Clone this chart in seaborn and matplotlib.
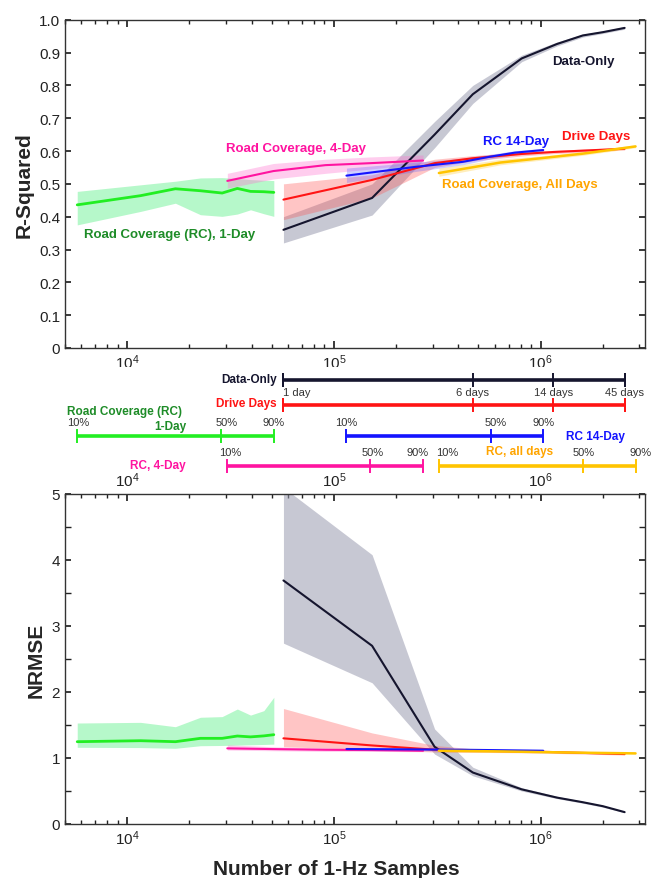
import numpy as np
import matplotlib
matplotlib.use("Agg")
import matplotlib.pyplot as plt
import matplotlib.ticker as mticker
import seaborn as sns

# ---- values ----
# Data-Only (1 day ... 45 days of driving)
do_x = [57000, 153000, 307000, 470000, 810000, 1200000, 1600000, 2000000, 2550000]
do_r2 = [0.36, 0.457, 0.65, 0.773, 0.882, 0.926, 0.952, 0.962, 0.975]
do_r2_lo = [0.32, 0.405, 0.61, 0.745, 0.872, 0.92, 0.947, 0.958, 0.971]
do_r2_hi = [0.40, 0.50, 0.69, 0.80, 0.892, 0.932, 0.956, 0.966, 0.979]
do_nrmse = [3.69, 2.70, 1.17, 0.78, 0.525, 0.40, 0.33, 0.27, 0.18]
do_nrmse_lo = [2.74, 2.14, 1.06, 0.73, 0.50, 0.385, 0.315, 0.255, 0.17]
do_nrmse_hi = [5.1, 4.08, 1.44, 0.86, 0.55, 0.42, 0.345, 0.285, 0.19]

# Drive Days
drive_x = [57000, 153000, 307000, 470000, 810000, 1150000, 2550000]
drive_r2 = [0.452, 0.512, 0.563, 0.578, 0.591, 0.597, 0.607]
drive_r2_lo = [0.391, 0.457, 0.550, 0.570, 0.585, 0.592, 0.603]
drive_r2_hi = [0.500, 0.528, 0.575, 0.586, 0.597, 0.602, 0.611]
drive_nrmse = [1.298, 1.19, 1.126, 1.11, 1.10, 1.09, 1.06]
drive_nrmse_lo = [1.17, 1.13, 1.09, 1.085, 1.08, 1.07, 1.045]
drive_nrmse_hi = [1.75, 1.38, 1.19, 1.14, 1.12, 1.105, 1.075]

# Road Coverage (RC), 1-Day
rc1_x = [5730, 11600, 17100, 22600, 28800, 34100, 39500, 45800, 51200]
rc1_r2 = [0.436, 0.464, 0.485, 0.479, 0.472, 0.486, 0.477, 0.476, 0.474]
rc1_r2_lo = [0.375, 0.416, 0.441, 0.406, 0.401, 0.408, 0.421, 0.409, 0.401]
rc1_r2_hi = [0.477, 0.497, 0.508, 0.518, 0.519, 0.516, 0.513, 0.511, 0.51]
rc1_nrmse = [1.247, 1.262, 1.247, 1.298, 1.298, 1.333, 1.32, 1.335, 1.353]
rc1_nrmse_lo = [1.162, 1.158, 1.147, 1.186, 1.19, 1.195, 1.2, 1.205, 1.21]
rc1_nrmse_hi = [1.53, 1.54, 1.474, 1.617, 1.627, 1.742, 1.65, 1.717, 1.92]

# RC, 4-Day
rc4_x = [30500, 51000, 91000, 150000, 270000]
rc4_r2 = [0.509, 0.539, 0.557, 0.563, 0.571]
rc4_r2_lo = [0.487, 0.515, 0.532, 0.545, 0.563]
rc4_r2_hi = [0.532, 0.562, 0.575, 0.582, 0.588]
rc4_nrmse = [1.146, 1.135, 1.125, 1.12, 1.11]
rc4_nrmse_lo = [1.12, 1.11, 1.10, 1.10, 1.095]
rc4_nrmse_hi = [1.20, 1.17, 1.15, 1.14, 1.13]

# RC 14-Day
rc14_x = [115000, 250000, 420000, 573000, 750000, 1030000]
rc14_r2 = [0.525, 0.552, 0.567, 0.583, 0.595, 0.603]
rc14_r2_lo = [0.504, 0.538, 0.558, 0.576, 0.589, 0.598]
rc14_r2_hi = [0.548, 0.566, 0.578, 0.59, 0.601, 0.608]
rc14_nrmse = [1.136, 1.13, 1.125, 1.12, 1.115, 1.11]
rc14_nrmse_lo = [1.115, 1.11, 1.105, 1.10, 1.10, 1.095]
rc14_nrmse_hi = [1.16, 1.15, 1.145, 1.14, 1.135, 1.13]

# RC, all days
rcall_x = [322000, 640000, 1000000, 1600000, 2880000]
rcall_r2 = [0.533, 0.565, 0.578, 0.592, 0.614]
rcall_r2_lo = [0.523, 0.558, 0.572, 0.587, 0.61]
rcall_r2_hi = [0.548, 0.575, 0.585, 0.598, 0.619]
rcall_nrmse = [1.11, 1.10, 1.09, 1.08, 1.07]
rcall_nrmse_lo = [1.095, 1.085, 1.078, 1.068, 1.06]
rcall_nrmse_hi = [1.125, 1.115, 1.105, 1.095, 1.08]

# sample-count scale in the middle strip
days_x = [57000, 470000, 1150000, 2550000]
days_lbl = ["1 day", "6 days", "14 days", "45 days"]
pct_lbl = ["10%", "50%", "90%"]
rc1_pct = [5730, 28500, 51200]
rc14_pct = [115000, 573000, 1030000]
rc4_pct = [30500, 150000, 270000]
rcall_pct = [322000, 1600000, 2880000]

NAVY = "#15152e"
GREEN = "#22ee22"
GREEN_TXT = "#1e8c28"
RED = "#ff1414"
MAGENTA = "#ff14a0"
BLUE = "#1414ff"
GOLD = "#ffc400"
ORANGE_TXT = "#ffa500"
GREY_TXT = "#333333"

sns.set_theme(style="ticks")
plt.rcParams["font.family"] = ["Liberation Sans", "DejaVu Sans"]
plt.rcParams.update({
    "xtick.direction": "in", "ytick.direction": "in",
    "xtick.major.size": 5, "ytick.major.size": 4,
    "xtick.minor.size": 3, "ytick.minor.size": 4,
    "xtick.labelsize": 11, "ytick.labelsize": 11,
    "xtick.color": "#222222", "ytick.color": "#222222",
    "axes.edgecolor": "#333333", "axes.linewidth": 1.0,
})

XLIM = (5000, 3.2e6)
W, H = 653, 879
fig = plt.figure(figsize=(6.53, 8.79), dpi=100)


def px_axes(x0, y0, x1, y1):
    return fig.add_axes([x0 / W, 1 - y1 / H, (x1 - x0) / W, (y1 - y0) / H])


ax1 = px_axes(65, 20.7, 645, 349)
ax_t = px_axes(65, 368, 645, 477)
ax2 = px_axes(65, 495, 645, 825)

for ax in (ax1, ax_t, ax2):
    ax.set_xscale("log")
    ax.set_xlim(*XLIM)


def series(ax, x, mid, lo, hi, line_c, fill_c, alpha, lw):
    ax.fill_between(x, lo, hi, color=fill_c, alpha=alpha, lw=0, zorder=1)
    sns.lineplot(x=x, y=mid, ax=ax, color=line_c, lw=lw, zorder=3)


# ---- top: R-squared ----
series(ax1, rc1_x, rc1_r2, rc1_r2_lo, rc1_r2_hi, GREEN, "#5ef08a", 0.45, 2.0)
series(ax1, do_x, do_r2, do_r2_lo, do_r2_hi, NAVY, "#9a9bb0", 0.55, 1.5)
series(ax1, drive_x, drive_r2, drive_r2_lo, drive_r2_hi, RED, "#ff5050", 0.33, 1.5)
series(ax1, rc4_x, rc4_r2, rc4_r2_lo, rc4_r2_hi, MAGENTA, "#ff70d0", 0.35, 1.5)
series(ax1, rc14_x, rc14_r2, rc14_r2_lo, rc14_r2_hi, BLUE, "#6060ff", 0.3, 1.5)
series(ax1, rcall_x, rcall_r2, rcall_r2_lo, rcall_r2_hi, GOLD, "#ffd040", 0.35, 1.8)

ax1.set_ylim(0, 1)
ax1.yaxis.set_major_locator(mticker.MultipleLocator(0.1))
ax1.yaxis.set_major_formatter(mticker.FuncFormatter(lambda v, _: "0" if abs(v) < 1e-9 else f"{v:.1f}"))
ax1.set_ylabel("R-Squared", fontsize=15, fontweight="bold")
ax1.tick_params(which="both", top=True, right=True)

lab = dict(fontsize=9.5, fontweight="bold", va="center", ha="left")
ax1.text(1.14e6, 0.873, "Data-Only", color=NAVY, **lab)
ax1.text(29900, 0.608, "Road Coverage, 4-Day", color=MAGENTA, **lab)
ax1.text(525000, 0.631, "RC 14-Day", color=BLUE, **lab)
ax1.text(1.27e6, 0.646, "Drive Days", color=RED, **lab)
ax1.text(334000, 0.50, "Road Coverage, All Days", color=ORANGE_TXT, **lab)
ax1.text(6170, 0.347, "Road Coverage (RC), 1-Day", color=GREEN_TXT, **lab)

# ---- middle strip: what the sample counts mean ----
ax_t.set_ylim(477, 368)
ax_t.set_facecolor("white")
for s in ax_t.spines.values():
    s.set_visible(False)
ax_t.tick_params(which="both", bottom=False, left=False, top=False, right=False,
                 labelbottom=False, labelleft=False)


def scale_bar(x, row, color):
    ax_t.plot(x, [row] * len(x), color=color, lw=2.6, marker="|", ms=10, mew=1.4,
              clip_on=False, solid_capstyle="butt")


small = dict(fontsize=8, color=GREY_TXT, va="center")
tl = dict(fontsize=8.5, fontweight="bold", va="center")

scale_bar([days_x[0], days_x[-1]], 380.7, NAVY)
ax_t.plot(days_x, [380.7] * 4, ls="none", marker="|", ms=10, mew=1.4, color=NAVY, clip_on=False)
scale_bar([days_x[0], days_x[-1]], 405.5, RED)
ax_t.plot(days_x, [405.5] * 4, ls="none", marker="|", ms=10, mew=1.4, color=RED, clip_on=False)
ax_t.text(days_x[0] * 0.93, 380, "Data-Only", color=NAVY, ha="right", **tl)
ax_t.text(days_x[0] * 0.93, 404.5, "Drive Days", color=RED, ha="right", **tl)
for i, (xv, t) in enumerate(zip(days_x, days_lbl)):
    ax_t.text(xv, 393.5, t, ha="left" if i == 0 else "center", **small)

# percent labels sit above each bar, nudged sideways (pixels) where they crowd
for pct, row, color, nudge in [(rc1_pct, 437, GREEN, (1, 5, 0)),
                               (rc14_pct, 437, BLUE, (0, 5, 0)),
                               (rc4_pct, 466.7, MAGENTA, (3, 2, -6)),
                               (rcall_pct, 466.7, GOLD, (8, 1, 5))]:
    scale_bar(pct, row, color)
    for xv, t, dx in zip(pct, pct_lbl, nudge):
        ax_t.annotate(t, (xv, row), xytext=(dx, 14), textcoords="offset pixels",
                      ha="center", **small)

ax_t.text(9700, 411.7, "Road Coverage (RC)", color=GREEN_TXT, ha="center", **tl)
ax_t.text(16200, 426.7, "1-Day", color=GREEN_TXT, ha="center", **tl)
ax_t.text(1.84e6, 436.7, "RC 14-Day", color=BLUE, ha="center", **tl)
ax_t.text(14100, 466, "RC, 4-Day", color=MAGENTA, ha="center", **tl)
ax_t.text(791000, 452, "RC, all days", color=ORANGE_TXT, ha="center", **tl)

# ---- bottom: NRMSE ----
series(ax2, rc1_x, rc1_nrmse, rc1_nrmse_lo, rc1_nrmse_hi, GREEN, "#5ef08a", 0.45, 2.0)
series(ax2, do_x, do_nrmse, do_nrmse_lo, do_nrmse_hi, NAVY, "#9a9bb0", 0.55, 1.5)
series(ax2, drive_x, drive_nrmse, drive_nrmse_lo, drive_nrmse_hi, RED, "#ff5050", 0.33, 1.5)
series(ax2, rc4_x, rc4_nrmse, rc4_nrmse_lo, rc4_nrmse_hi, MAGENTA, "#ff70d0", 0.35, 1.5)
series(ax2, rc14_x, rc14_nrmse, rc14_nrmse_lo, rc14_nrmse_hi, BLUE, "#6060ff", 0.3, 1.5)
series(ax2, rcall_x, rcall_nrmse, rcall_nrmse_lo, rcall_nrmse_hi, GOLD, "#ffd040", 0.35, 1.8)

ax2.set_ylim(0, 5)
ax2.yaxis.set_major_locator(mticker.MultipleLocator(1))
ax2.yaxis.set_minor_locator(mticker.MultipleLocator(0.5))
ax2.set_ylabel("NRMSE", fontsize=15, fontweight="bold")
ax2.set_xlabel("Number of 1-Hz Samples", fontsize=15, fontweight="bold")
ax2.xaxis.set_label_coords(0.467, -0.105)
ax2.tick_params(which="both", top=True, right=True, labeltop=True)

fig.savefig("out.png", dpi=100)
